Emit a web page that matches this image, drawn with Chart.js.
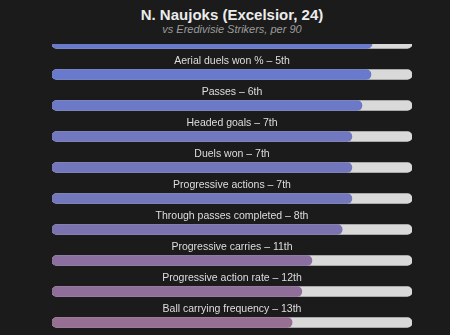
<!DOCTYPE html>
<html>
<head>
<meta charset="utf-8">
<script src="https://cdn.jsdelivr.net/npm/chart.js@4"></script>
<style>
  html, body { margin: 0; padding: 0; background: #1b1b1b; width: 450px; height: 335px; overflow: hidden; }
  #head { position: absolute; left: 0; top: 0; width: 450px; height: 44px; background: #1b1b1b; z-index: 2;
          font-family: "Liberation Sans", Arial, sans-serif; text-align: center; }
  #title { position: absolute; left: 14px; width: 436px; top: 6px; font-size: 15px; line-height: 18px; font-weight: bold; color: #ececec; }
  #sub { position: absolute; left: 14px; width: 436px; top: 23px; font-size: 11px; line-height: 13px; font-style: italic; color: #9c9c9c; }
  #wrap { position: absolute; left: 0; top: 12px; width: 450px; height: 326px; z-index: 1; }
</style>
</head>
<body>
<div id="head">
  <div id="title">N. Naujoks (Excelsior, 24)</div>
  <div id="sub">vs Eredivisie Strikers, per 90</div>
</div>
<div id="wrap"><canvas id="myChart"></canvas></div>
<script>
// metrics, rank in the league and percentile (share of the bar filled)
const metrics = ['Non-penalty goals', 'Aerial duels won %', 'Passes', 'Headed goals', 'Duels won',
  'Progressive actions', 'Through passes completed', 'Progressive carries',
  'Progressive action rate', 'Ball carrying frequency'];
const ranks = ['5th', '5th', '6th', '7th', '7th', '7th', '8th', '11th', '12th', '13th'];
const percentiles = [0.889, 0.886, 0.861, 0.833, 0.833, 0.833, 0.806, 0.722, 0.694, 0.667];
const trackValues = [1, 1, 1, 1, 1, 1, 1, 1, 1, 1];

const fillColors = ['#6a7acb', '#6979cb', '#6c79c6', '#7178bf', '#7277bd', '#7377bb', '#7b73b0',
  '#8b6fa0', '#906e9a', '#976f93'];

// draws "Metric – rank" above each bar
const labelPlugin = {
  id: 'rowLabels',
  afterDatasetsDraw(chart) {
    const c = chart.ctx;
    const yScale = chart.scales.y;
    const mid = (chart.chartArea.left + chart.chartArea.right) / 2;
    c.save();
    c.font = '10.5px "Liberation Sans", Arial, sans-serif';
    c.fillStyle = '#dedede';
    c.textAlign = 'center';
    c.textBaseline = 'middle';
    metrics.forEach((m, i) => {
      const y = yScale.getPixelForValue(i);
      c.fillText(m + ' \u2013 ' + ranks[i], mid, y - 13.5);
    });
    c.restore();
  }
};

let ctx = document.getElementById('myChart').getContext('2d');
let myChart = new Chart(ctx, {
  type: 'bar',
  data: {
    labels: metrics,
    datasets: [{
      data: percentiles,
      backgroundColor: fillColors,
      borderRadius: 5,
      borderSkipped: false,
      barThickness: 10,
      grouped: false,
      order: 1
    }, {
      data: trackValues,
      backgroundColor: '#d9d9d9',
      borderRadius: 5,
      borderSkipped: false,
      barThickness: 10,
      grouped: false,
      order: 2
    }]
  },
  options: {
    indexAxis: 'y',
    responsive: true,
    maintainAspectRatio: false,
    animation: false,
    layout: { padding: { left: 52, right: 38, top: 16, bottom: 0 } },
    scales: {
      x: { display: false, min: 0, max: 1 },
      y: { display: false }
    },
    plugins: { legend: { display: false }, tooltip: { enabled: false } }
  },
  plugins: [labelPlugin]
});
</script>
</body>
</html>
